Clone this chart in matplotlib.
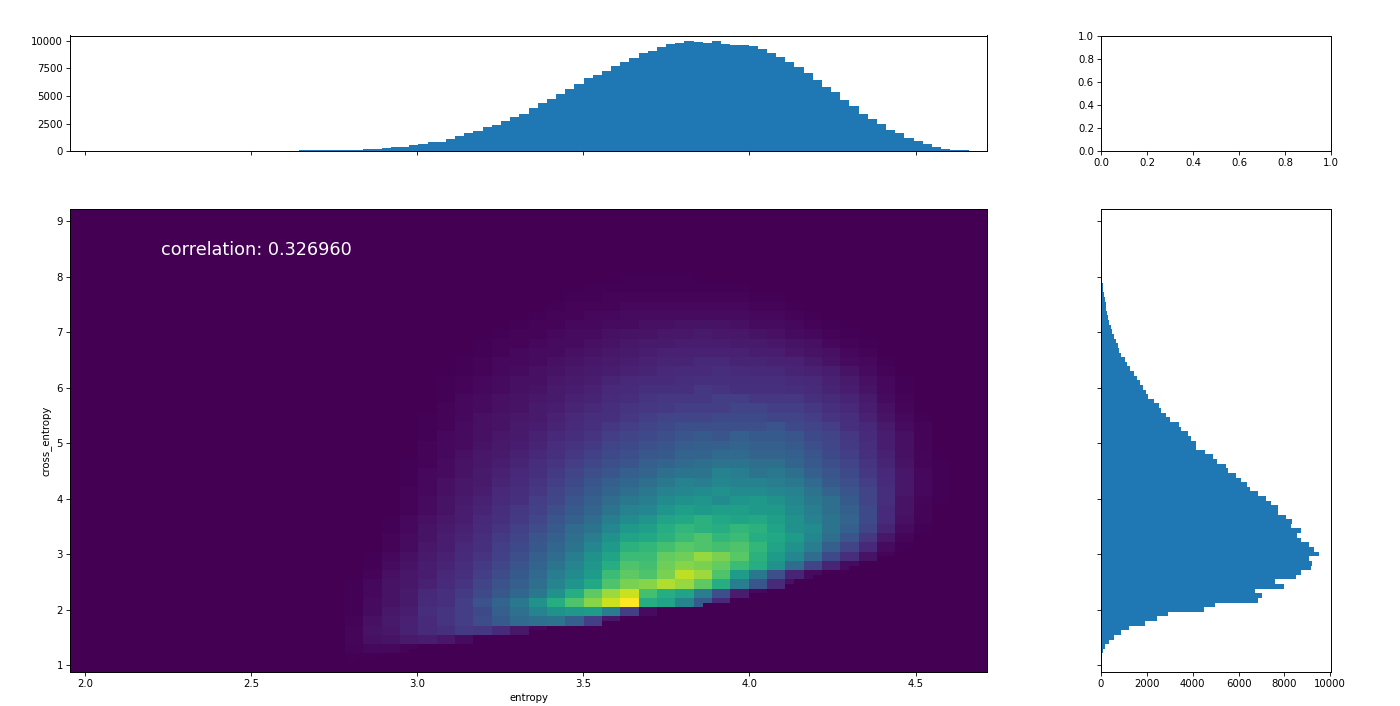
import numpy as np
import matplotlib
matplotlib.use('Agg')
import matplotlib.pyplot as plt

x_label = 'entropy'
y_label = 'cross_entropy'
note = 'correlation: 0.326960'
x_range = (1.955, 4.715)
y_range = (0.875, 9.22)

entropy_counts = [0]*25 + [60,60,60,60,60,60,70,150,180,270,330,390,550,610,790,850,1060,1330,1600,1820,
    2150,2330,2730,3120,3400,3880,4330,4730,5150,5670,6090,6610,6880,7270,7760,8120,8450,8950,9080,9450,
    9730,9820,10000,9910,9850,10000,9730,9640,9600,9550,9270,8910,8550,8060,7600,7090,6450,5850,5390,4600,
    4060,3390,2940,2420,1940,1600,1150,880,640,390,180,120,60,0,0]

cross_counts = [0,0,0,30,90,190,330,570,880,1200,1900,2450,2940,4470,4950,6830,7020,6730,7990,7600,
    8500,8710,9150,9190,9090,9510,9310,9080,8730,8550,8740,8290,8350,8080,7740,7740,7410,7210,6830,6510,
    6350,6100,5870,5550,5470,5060,4870,4520,4160,4160,3940,3780,3470,3380,2990,2830,2630,2510,2330,2070,
    1970,1810,1680,1550,1420,1260,1120,1040,880,800,725,650,565,480,435,360,305,275,200,200,
    175,145,100,100,60,60,60,30,30,15,0,0,0,0,0,0,0,0,0,0]

# Density read in blocks of 2x2 bins, bottom row first, 0-100 relative to the brightest cell
density_rows = [
 [.5,.5],
 [1,2,2,1],
 [1.5,4,5,7,8,6,3],
 [1.5,5,6,9,12,14,17,16,12,6,2],
 [1,4,7,9,12,15,18,23,28,34,37,38,30,18,6],
 [.5,3,6,8,13,15,18,22,30,37,45,50,53,55,42,18,3],
 [.5,3,5,7,12,14,18,25,32,40,50,62,72,82,92,100,62,58,45,28,12,3],
 [.5,2,5,7,11,14,17,22,27,33,40,50,62,75,85,92,70,62,58,42,24,8,2],
 [.5,2,5,6,9,12,15,20,25,30,36,45,52,60,72,80,82,88,84,75,62,42,26,12,4],
 [0,1,4,6,8,11,14,18,23,28,34,42,48,55,68,75,72,80,90,85,72,55,40,24,10,3],
 [0,.5,3,5,8,10,13,17,21,26,32,38,45,52,62,72,70,78,82,80,76,68,62,50,35,20,10,3],
 [0,.5,2,4,7,9,12,15,19,24,30,35,42,50,58,68,68,76,78,84,80,74,64,55,46,35,22,13,5,1],
 [0,0,1,3,6,8,11,14,18,22,27,33,38,46,54,64,66,70,74,72,70,72,66,58,50,42,30,20,11,3,.5],
 [0,0,1,3,5,8,10,13,17,20,26,30,36,42,50,58,60,64,68,72,66,68,62,60,55,46,36,26,16,6,1.5],
 [0,0,.5,2,5,7,9,12,15,19,23,28,34,38,46,54,56,62,66,64,62,66,64,58,50,48,38,30,20,10,3,.5],
 [0,0,.5,2,4,6,8,11,14,17,21,26,30,35,42,48,52,58,60,64,60,58,60,56,50,44,38,32,22,12,4,1],
 [0,0,0,1,3,5,8,10,13,16,19,24,28,32,38,44,46,52,56,54,56,56,54,54,48,42,36,30,22,12,5,1],
 [0,0,0,1,3,5,7,9,12,14,18,21,26,30,35,40,42,48,50,52,48,52,54,50,46,40,36,28,20,13,5,1.5,.5],
 [0,0,0,1,2,4,6,8,11,13,16,20,24,28,32,36,40,44,46,48,50,48,48,46,44,38,32,26,20,13,6,2,.5],
 [0,0,0,.5,2,4,6,7,10,12,15,18,22,26,30,33,36,40,44,42,46,44,44,42,40,34,28,24,18,12,6,2,.5],
 [0,0,0,.5,2,3,5,7,9,11,14,17,20,24,26,30,32,36,38,38,44,42,38,40,36,30,26,22,16,11,6,2,.5],
 [0,0,0,.5,1,3,5,6,8,10,13,15,18,21,24,26,30,32,34,36,38,38,36,36,32,28,24,20,15,10,5,1.5,.5],
 [0,0,0,0,1,2,4,6,7,9,11,14,16,19,22,24,27,28,32,32,34,34,32,32,30,26,22,18,14,9,4,1.5],
 [0,0,0,0,1,2,3,5,6.5,8,10,12.5,14.5,17,20,22,24.5,26,29,30,30,32,30,30,28,24,21,17,13,8,4,1],
 [0,0,0,0,.5,2,3,4,6,7,9,11,13,15,18,20,22,24,26,28,26,30,28,28,26,22,20,16,12,8,4,1],
 [0,0,0,0,.5,1,3,4,5,7,8,10,12,14,16,18,20,22,24,24,24,24,24,26,22,20,18,14,11,7,3,1],
 [0,0,0,0,.5,1,2,4,5,6,7,9,11,13,14,16,18,20,20,20,22,22,22,20,20,18,15,13,9,5,2,.5],
 [0,0,0,0,0,1,2,3,4,5,7,8,10,11,13,15,16,17,18,18,18,20,20,18,18,16,14,11,8,4,1.5],
 [0,0,0,0,0,.5,2,3,4,5,6,7,9,10,12,13,15,16,16,16,18,18,16,16,16,14,12,10,7,3,1],
 [0,0,0,0,0,.5,1,2,3,4,5,7,8,9,11,12,14,14,14,16,15,14,14,14,13,12,10,8,5,2,.5],
 [0,0,0,0,0,.5,1,2,3,4,4,6,7,8,10,11,12,12,13,14,14,13,13,13,12,11,9,7,4,2,.5],
 [0,0,0,0,0,0,.5,1,2,3,4,5,6,7,8,9,10,11,12,12,13,12,11,11,10,9,8,5,3,1],
 [0,0,0,0,0,0,.5,1,2,2,3,4,5,6,7,8,9,10,10,11,11,10,10,9,9,7,5,3,2,.5],
 [0,0,0,0,0,0,0,.5,1,2,3,3,4,5,6,7,8,9,9,9,9,9,8,8,6,5,4,2,1],
 [0,0,0,0,0,0,0,.5,1,1,2,3,3,4,5,6,7,7,8,8,8,7,7,6,5,4,2,1,.5],
 [0,0,0,0,0,0,0,0,.5,1,1,2,3,3,4,5,5,6,6,7,6,6,5,4,3,2,1,.5],
 [0,0,0,0,0,0,0,0,0,.5,1,1,2,2,3,3,4,4,5,5,5,4,3,3,2,1,.5],
 [0,0,0,0,0,0,0,0,0,0,.5,1,1,2,2,3,3,3,3,3,3,3,2,2,1,.5],
 [0,0,0,0,0,0,0,0,0,0,0,.5,1,1,1,2,2,2,2,2,2,2,1,1,.5],
 [0,0,0,0,0,0,0,0,0,0,0,0,.5,.5,1,1,1,1,1,1,1,1,.5,.5],
 [0,0,0,0,0,0,0,0,0,0,0,0,0,.5,.5,.5,.5,.5,.5,.5,.5,.5],
 [0,0,0,0,0,0,0,0,0,0,0,0,0,0,0,.5,.5,.5,.5],
]
first_block_col = 15   # blocks start at bin 30 of 100
first_block_row = 1    # blocks start at bin 2 of 100

# Lowest occupied cross_entropy bin in each entropy bin, from bin 30 onward
lower_edge_bins = [2,3,3,3,4,4,4,5,5,5, 5,6,6,6,7,7,7,7,8,8,
                   9,9,9,9,10,10,10,10,11,11, 12,12,12,12,13,13,13,14,14,15,
                   15,15,16,16,17,17,18,18,19,20, 20,21,21,22,22,23,23,24,25,25,
                   26,27,29,30,32,34,36,38,40,100]
first_edge_bin = 30

W, H = 1400, 706
fig = plt.figure(figsize=(W/100, H/100), dpi=100)

def make_axes(l, t, r, b):
    return fig.add_axes([l/W, 1-b/H, (r-l)/W, (b-t)/H])

ax_top = make_axes(70, 35.5, 987, 151)
ax_blank = make_axes(1101, 35.5, 1331, 151)
ax_main = make_axes(70, 209, 987, 672)
ax_right = make_axes(1101, 209, 1331, 672)

blocks = np.zeros((50, 50))
for r, row in enumerate(density_rows):
    blocks[first_block_row + r, first_block_col:first_block_col + len(row)] = row
density = np.kron(blocks, np.ones((2, 2)))
for k, edge in enumerate(lower_edge_bins):
    density[:edge, first_edge_bin + k] = 0

x_fine = np.linspace(*x_range, 101)
y_fine = np.linspace(*y_range, 101)
ax_main.pcolormesh(x_fine, y_fine, density, cmap='viridis', vmin=0, vmax=100,
                   shading='flat', rasterized=True)
ax_main.set_xlim(x_range)
ax_main.set_ylim(y_range)
ax_main.set_xticks([2.0, 2.5, 3.0, 3.5, 4.0, 4.5])
ax_main.set_yticks(range(1, 10))
ax_main.set_xlabel(x_label, fontsize=7.3, labelpad=2.5)
ax_main.set_ylabel(y_label, fontsize=7.3, labelpad=3)
ax_main.text(2.23, 8.49, note, color='white', fontsize=12.7, va='center')

ax_top.bar(x_fine[:-1], entropy_counts, width=np.diff(x_fine), align='edge', color='#1f77b4')
ax_top.set_xlim(x_range)
ax_top.set_ylim(0, 10500)
ax_top.set_xticks([2.0, 2.5, 3.0, 3.5, 4.0, 4.5])
ax_top.set_yticks([0, 2500, 5000, 7500, 10000])
ax_top.tick_params(labelbottom=False)

ax_right.barh(y_fine[:-1], cross_counts, height=np.diff(y_fine), align='edge', color='#1f77b4')
ax_right.set_ylim(y_range)
ax_right.set_xlim(0, 10030)
ax_right.set_yticks(range(1, 10))
ax_right.set_xticks([0, 2000, 4000, 6000, 8000, 10000])
ax_right.tick_params(labelleft=False)

ax_blank.set_xlim(0, 1)
ax_blank.set_ylim(0, 1)

for ax in (ax_top, ax_blank, ax_main, ax_right):
    ax.tick_params(labelsize=7.3, length=2.6, width=0.6, pad=2.5)
    for s in ax.spines.values():
        s.set_linewidth(0.7)

fig.savefig('out.png', dpi=100)
